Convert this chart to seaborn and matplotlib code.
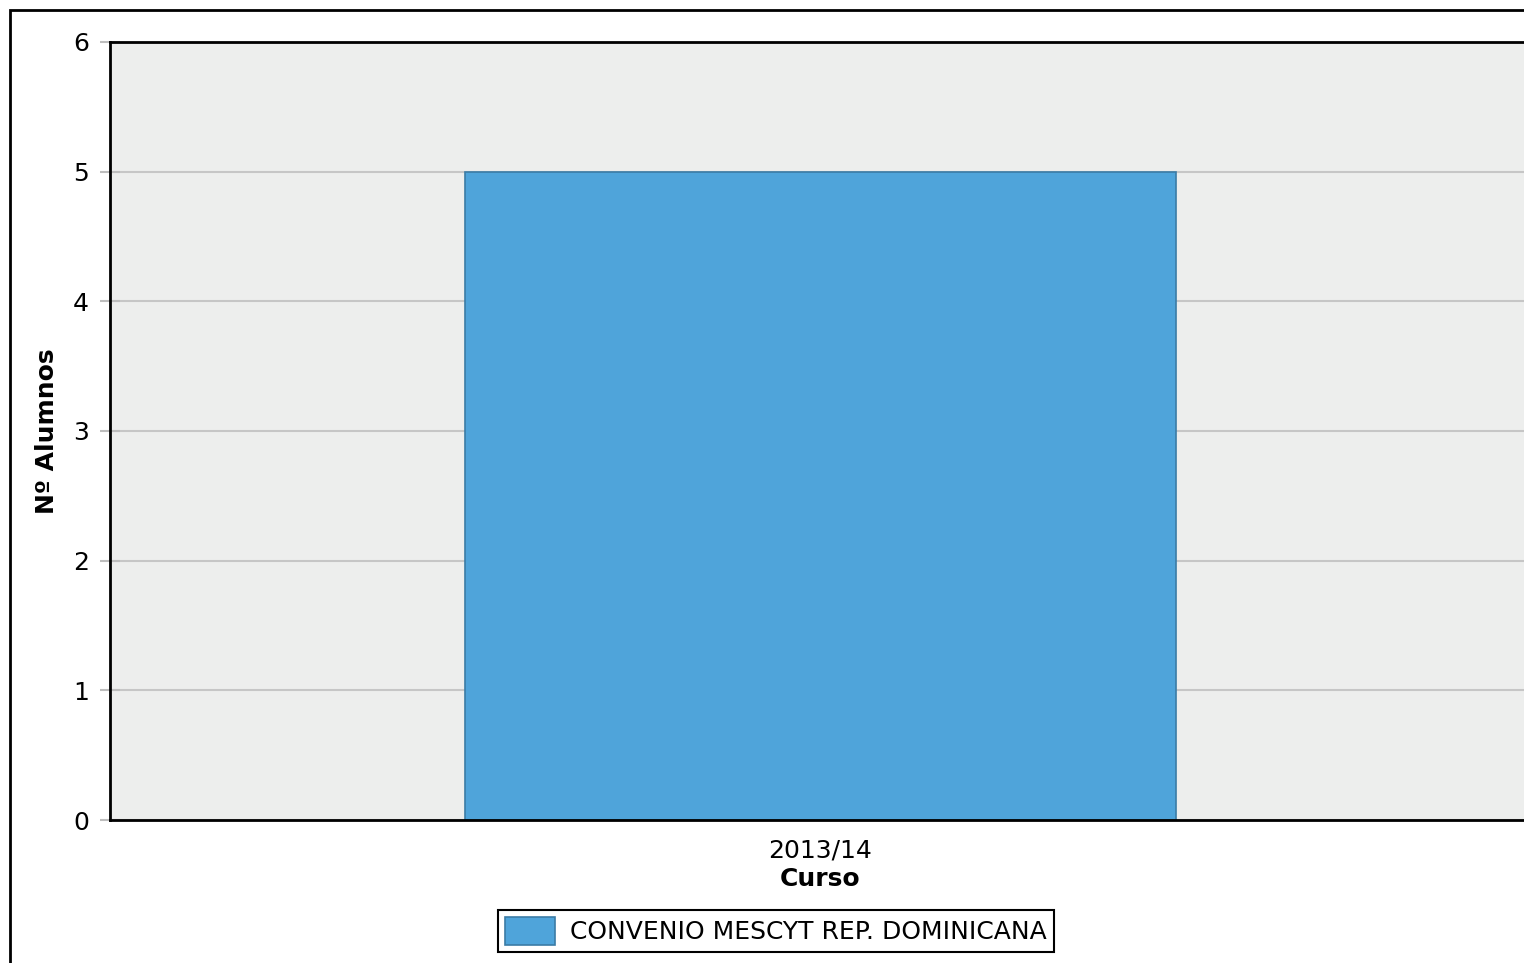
import numpy as np
import matplotlib.pyplot as plt
import matplotlib.patches as mpatches
import pandas as pd
import seaborn as sns

# Datos
cursos = ['2013/14']
alumnos = [5]
programa = ['CONVENIO MESCYT REP. DOMINICANA']

df = pd.DataFrame({'Curso': cursos, 'Alumnos': alumnos, 'Programa': programa})

sns.set_style('white')
plt.rcParams['font.family'] = ['DejaVu Sans']
plt.rcParams['text.color'] = 'black'
plt.rcParams['axes.labelcolor'] = 'black'
plt.rcParams['xtick.color'] = 'black'
plt.rcParams['ytick.color'] = 'black'

fig = plt.figure(figsize=(15.24, 9.63), dpi=100)
ax = fig.add_axes([110 / 1524, 1 - 820 / 963, 1421 / 1524, (820 - 42) / 963])
ax.set_facecolor('#edeeed')

bar_color = '#4fa4da'
sns.barplot(data=df, x='Curso', y='Alumnos', hue='Programa', palette=[bar_color],
            width=0.5, edgecolor='#3b7ca6', linewidth=1.2, saturation=1, legend=False, ax=ax)
ax.set_xlim(-0.5, 0.5)
ax.set_ylim(0, 6)
ax.set_yticks(range(0, 7))
ax.yaxis.grid(True, color='#c6c6c6', linewidth=1.5)
ax.set_axisbelow(True)

for s in ['left', 'bottom', 'top']:
    ax.spines[s].set_color('black')
    ax.spines[s].set_linewidth(2)
ax.spines['right'].set_visible(False)

ax.tick_params(axis='y', left=True, direction='inout', length=14, width=1.5, color='#bdbdbd',
               labelcolor='black', labelsize=18, pad=8)
ax.tick_params(axis='x', bottom=False, labelsize=18, pad=10, labelcolor='black')
ax.set_xlabel('Curso', fontsize=18, fontweight='bold', labelpad=3, color='black')
ax.set_ylabel('Nº Alumnos', fontsize=18, fontweight='bold', labelpad=10, color='black')

# Leyenda
handle = mpatches.Patch(facecolor=bar_color, edgecolor='#3b7ca6', linewidth=1.2, label=programa[0])
leg = fig.legend(handles=[handle], loc='center', bbox_to_anchor=(776 / 1524, 1 - 931 / 963),
                 fontsize=18, frameon=True, fancybox=False, edgecolor='black', framealpha=1,
                 handlelength=2.0, handleheight=1.3, borderpad=0.3, handletextpad=0.6)
leg.get_frame().set_linewidth(1.5)

# Marco exterior
fig.add_artist(mpatches.Rectangle((10 / 1524, -0.05), 1.1, 1 - 10 / 963 + 0.05,
                                  transform=fig.transFigure, fill=False,
                                  edgecolor='black', linewidth=2, clip_on=False))

fig.savefig('out.png', dpi=100)
